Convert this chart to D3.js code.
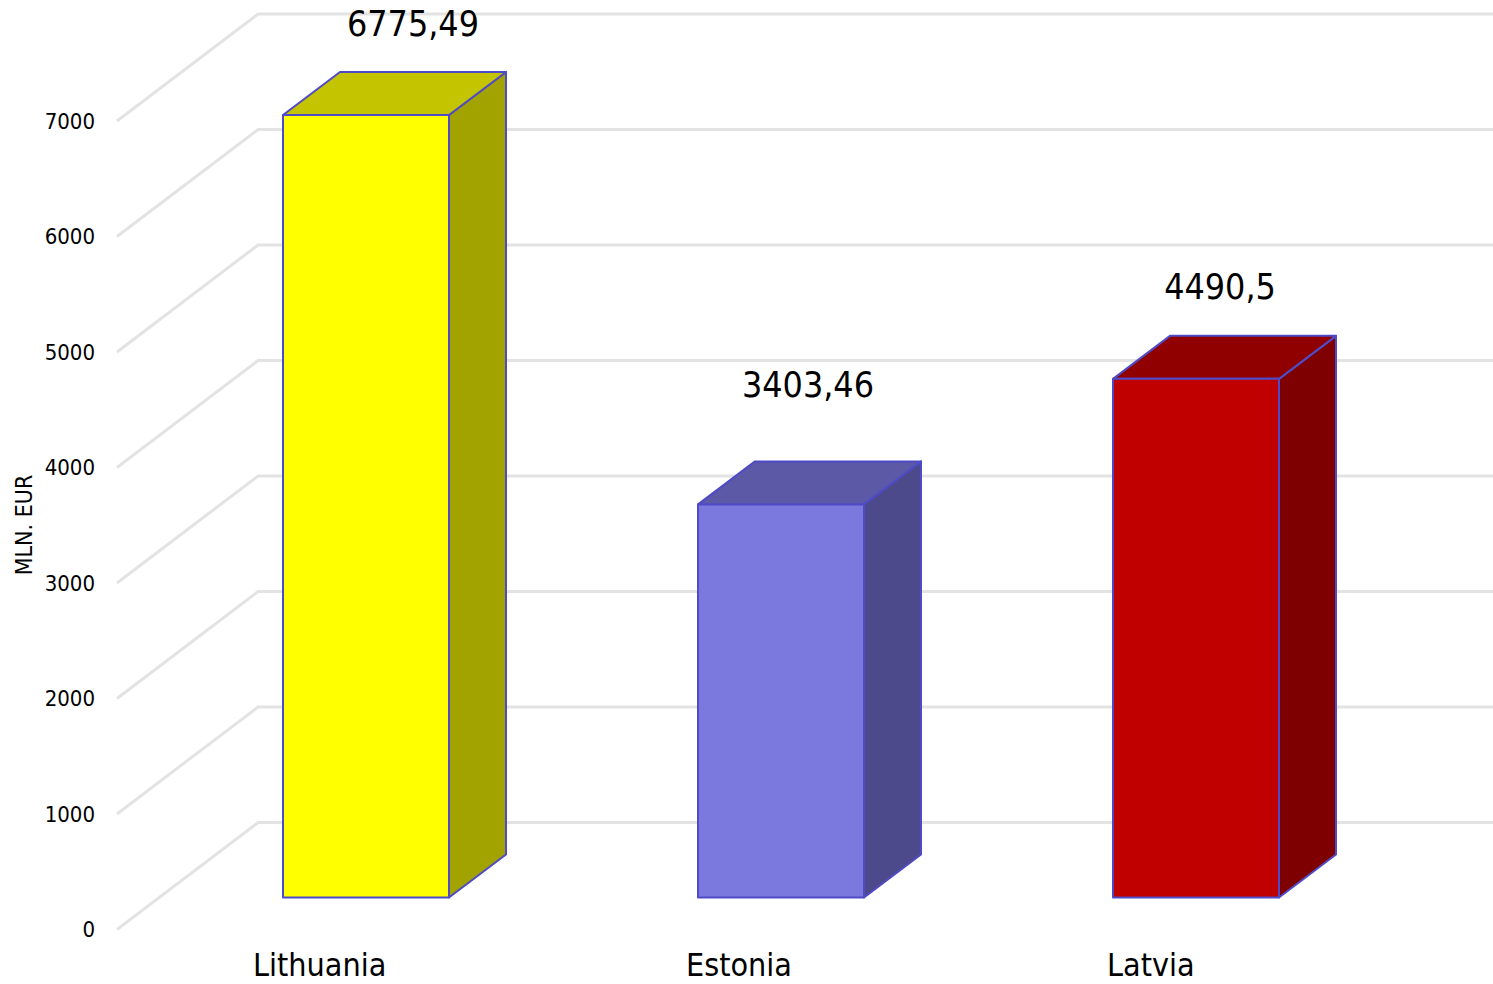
<!DOCTYPE html>
<html><head><meta charset="utf-8">
<script src="https://cdn.jsdelivr.net/npm/d3@7/dist/d3.min.js"></script>
<style>html,body{margin:0;padding:0;background:#fff;overflow:hidden}svg{display:block}
text{font-family:"DejaVu Sans Condensed","DejaVu Sans",sans-serif;font-stretch:condensed;fill:#000}</style>
</head><body><svg id="c" width="1493" height="984"></svg>
<script>
const categories = ["Lithuania","Estonia","Latvia"];
const values = [6775.49,3403.46,4490.5];
const valueLabels = ["6775,49","3403,46","4490,5"];
const tickValues = [0,1000,2000,3000,4000,5000,6000,7000];
const faceColors = ["#ffff00","#7b79de","#c00000"];
const topColors = ["#c4c400","#5c5aa6","#900000"];
const sideColors = ["#a3a300","#4c4a8a","#7f0000"];
const labelCentres = [413,808,1220];
const labelBaselines = [36,397,299];
const categoryStarts = [253,686,1107];

const svg = d3.select("#c");
const y = d3.scaleLinear().domain([0,7000]).range([929.5,121]);
const x = d3.scaleBand().domain(categories).range([283,1279]).paddingInner(249/415).paddingOuter(0);
const wall = {dx:141, dy:-107, x0:117, x1:1493};
const box = {dx:57, dy:-43, base:-32};

const grid = svg.append("g").attr("fill","none").attr("stroke","#e3e3e3").attr("stroke-width",3);
grid.selectAll("path").data(tickValues).join("path")
  .attr("d", d => `M${wall.x0},${y(d)}L${wall.x0+wall.dx},${y(d)+wall.dy}L${wall.x1},${y(d)+wall.dy}`);

const axis = d3.axisLeft(y).tickValues(tickValues).tickSize(0).tickPadding(0).tickFormat(d3.format("d"));
const ag = svg.append("g").attr("transform","translate(95,0)").call(axis);
ag.select(".domain").remove();
ag.selectAll("text").attr("font-size",22).attr("fill","#000");
ag.attr("font-family",null).attr("font-size",null);

svg.append("text").attr("transform","translate(25,525) rotate(-90)").attr("text-anchor","middle")
  .attr("font-size",23).attr("dominant-baseline","middle").text("MLN. EUR");

const bars = svg.append("g").attr("stroke","#4f4bc6").attr("stroke-width",2).attr("stroke-linejoin","round");
categories.forEach((c,i)=>{
  const l=x(c), r=l+x.bandwidth(), t=y(values[i])+box.base, b=y(0)+box.base;
  const g=bars.append("g");
  g.append("path").attr("fill",sideColors[i])
    .attr("d",`M${r},${t}L${r+box.dx},${t+box.dy}L${r+box.dx},${b+box.dy}L${r},${b}Z`);
  g.append("path").attr("fill",topColors[i])
    .attr("d",`M${l},${t}L${l+box.dx},${t+box.dy}L${r+box.dx},${t+box.dy}L${r},${t}Z`);
  g.append("rect").attr("fill",faceColors[i]).attr("x",l).attr("y",t).attr("width",r-l).attr("height",b-t);
});

svg.append("g").selectAll("text").data(valueLabels).join("text")
  .attr("x",(d,i)=>labelCentres[i]).attr("y",(d,i)=>labelBaselines[i])
  .attr("text-anchor","middle").attr("font-size",35.5).text(d=>d);
svg.append("g").selectAll("text").data(categories).join("text")
  .attr("x",(d,i)=>categoryStarts[i]).attr("y",976)
  .attr("font-size",32).text(d=>d);
</script></body></html>
